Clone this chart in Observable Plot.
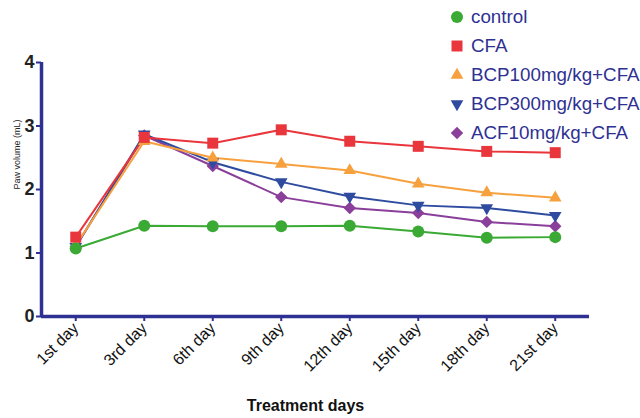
<!DOCTYPE html>
<html>
<head>
<meta charset="utf-8">
<script src="https://cdn.jsdelivr.net/npm/d3@7"></script>
<script src="https://cdn.jsdelivr.net/npm/@observablehq/plot@0.6"></script>
<style>
  html, body { margin: 0; padding: 0; background: #fff; }
  #wrap { position: relative; width: 640px; height: 418px; font-family: "Liberation Sans", Arial, sans-serif; overflow: hidden; }
  #legend { position: absolute; left: 448px; top: 2px; white-space: nowrap; }
  .item { display: flex; align-items: center; height: 29px; color: #2e3192; font-size: 18.8px; }
  .item svg { margin-right: 5px; }
</style>
</head>
<body>
<div id="wrap"><div id="legend"></div></div>
<script>
const days = ["1st day", "3rd day", "6th day", "9th day", "12th day", "15th day", "18th day", "21st day"];
const seriesNames = ["control", "CFA", "BCP100mg/kg+CFA", "BCP300mg/kg+CFA", "ACF10mg/kg+CFA"];
const control = [1.07, 1.43, 1.42, 1.42, 1.43, 1.34, 1.24, 1.25];
const cfa     = [1.25, 2.82, 2.73, 2.94, 2.76, 2.68, 2.60, 2.58];
const bcp100  = [1.12, 2.76, 2.50, 2.40, 2.30, 2.09, 1.95, 1.87];
const bcp300  = [1.10, 2.87, 2.43, 2.12, 1.89, 1.75, 1.71, 1.59];
const acf10   = [1.10, 2.85, 2.37, 1.88, 1.71, 1.63, 1.49, 1.42];
const yTicks = [0, 1, 2, 3, 4];

const colors = ["#3aaa35", "#e8363c", "#f6a13d", "#2e4b9f", "#8a3f9a"];
const navy = "#2e3192";

const triangleDown = {
  draw(ctx, size) {
    const p = {
      moveTo: (x, y) => ctx.moveTo(x, -y),
      lineTo: (x, y) => ctx.lineTo(x, -y),
      closePath: () => ctx.closePath()
    };
    d3.symbolTriangle.draw(p, size);
  }
};
const symbols = [d3.symbolCircle, d3.symbolSquare, d3.symbolTriangle, triangleDown, d3.symbolDiamond2];
const radii = [6, 6.2, 4.7, 4.7, 5.6];

const values = [control, cfa, bcp100, bcp300, acf10];
const data = [];
values.forEach((arr, s) => arr.forEach((v, i) => data.push({series: seriesNames[s], s, i, v})));

const order = [4, 3, 2, 1, 0];
const marks = [];
for (const s of order) {
  const d = data.filter(e => e.s === s);
  marks.push(Plot.line(d, {x: "i", y: "v", stroke: colors[s], strokeWidth: 2}));
}
for (const s of order) {
  const d = data.filter(e => e.s === s);
  marks.push(Plot.dot(d, {x: "i", y: "v", fill: colors[s], stroke: "none", r: radii[s], symbol: () => symbols[s]}));
}

const chart = Plot.plot({
  width: 640,
  height: 418,
  marginLeft: 41,
  marginRight: 51,
  marginTop: 62,
  marginBottom: 102,
  style: {fontFamily: "Liberation Sans, Arial, sans-serif", background: "transparent"},
  x: {type: "linear", domain: [-0.5, days.length - 0.5]},
  y: {domain: [0, 4]},
  symbol: {type: "identity"},
  marks: [
    Plot.axisX(d3.range(days.length), {
      tickFormat: i => days[i], tickRotate: -45, tickSize: 5, tickPadding: 4,
      stroke: navy, strokeWidth: 2, fontSize: 16, fill: "#111", label: null
    }),
    Plot.axisY(yTicks, {
      tickFormat: d3.format("d"),
      tickSize: 5, tickPadding: 2, stroke: navy, strokeWidth: 2,
      fontSize: 18, fontWeight: "bold", fill: "#222", label: null
    }),
    Plot.ruleY([0], {stroke: navy, strokeWidth: 3.5}),
    Plot.ruleX([-0.5], {stroke: navy, strokeWidth: 3.5}),
    ...marks,
    Plot.text(["Paw volume (mL)"], {frameAnchor: "left", dx: -24, rotate: -90, fontSize: 9, fill: "#222", lineAnchor: "middle"}),
    Plot.text(["Treatment days"], {frameAnchor: "bottom", dx: -10, dy: 89, fontSize: 16, fontWeight: "bold", fill: "#111", lineAnchor: "middle"})
  ]
});
document.getElementById("wrap").prepend(chart);

const legend = d3.select("#legend");
seriesNames.forEach((name, s) => {
  const item = legend.append("div").attr("class", "item");
  const svg = item.append("svg").attr("width", 18).attr("height", 18);
  const r = radii[s];
  svg.append("path")
    .attr("transform", "translate(9,9)")
    .attr("d", d3.symbol(symbols[s], Math.PI * r * r)())
    .attr("fill", colors[s]);
  item.append("span").text(name);
});
</script>
</body>
</html>
